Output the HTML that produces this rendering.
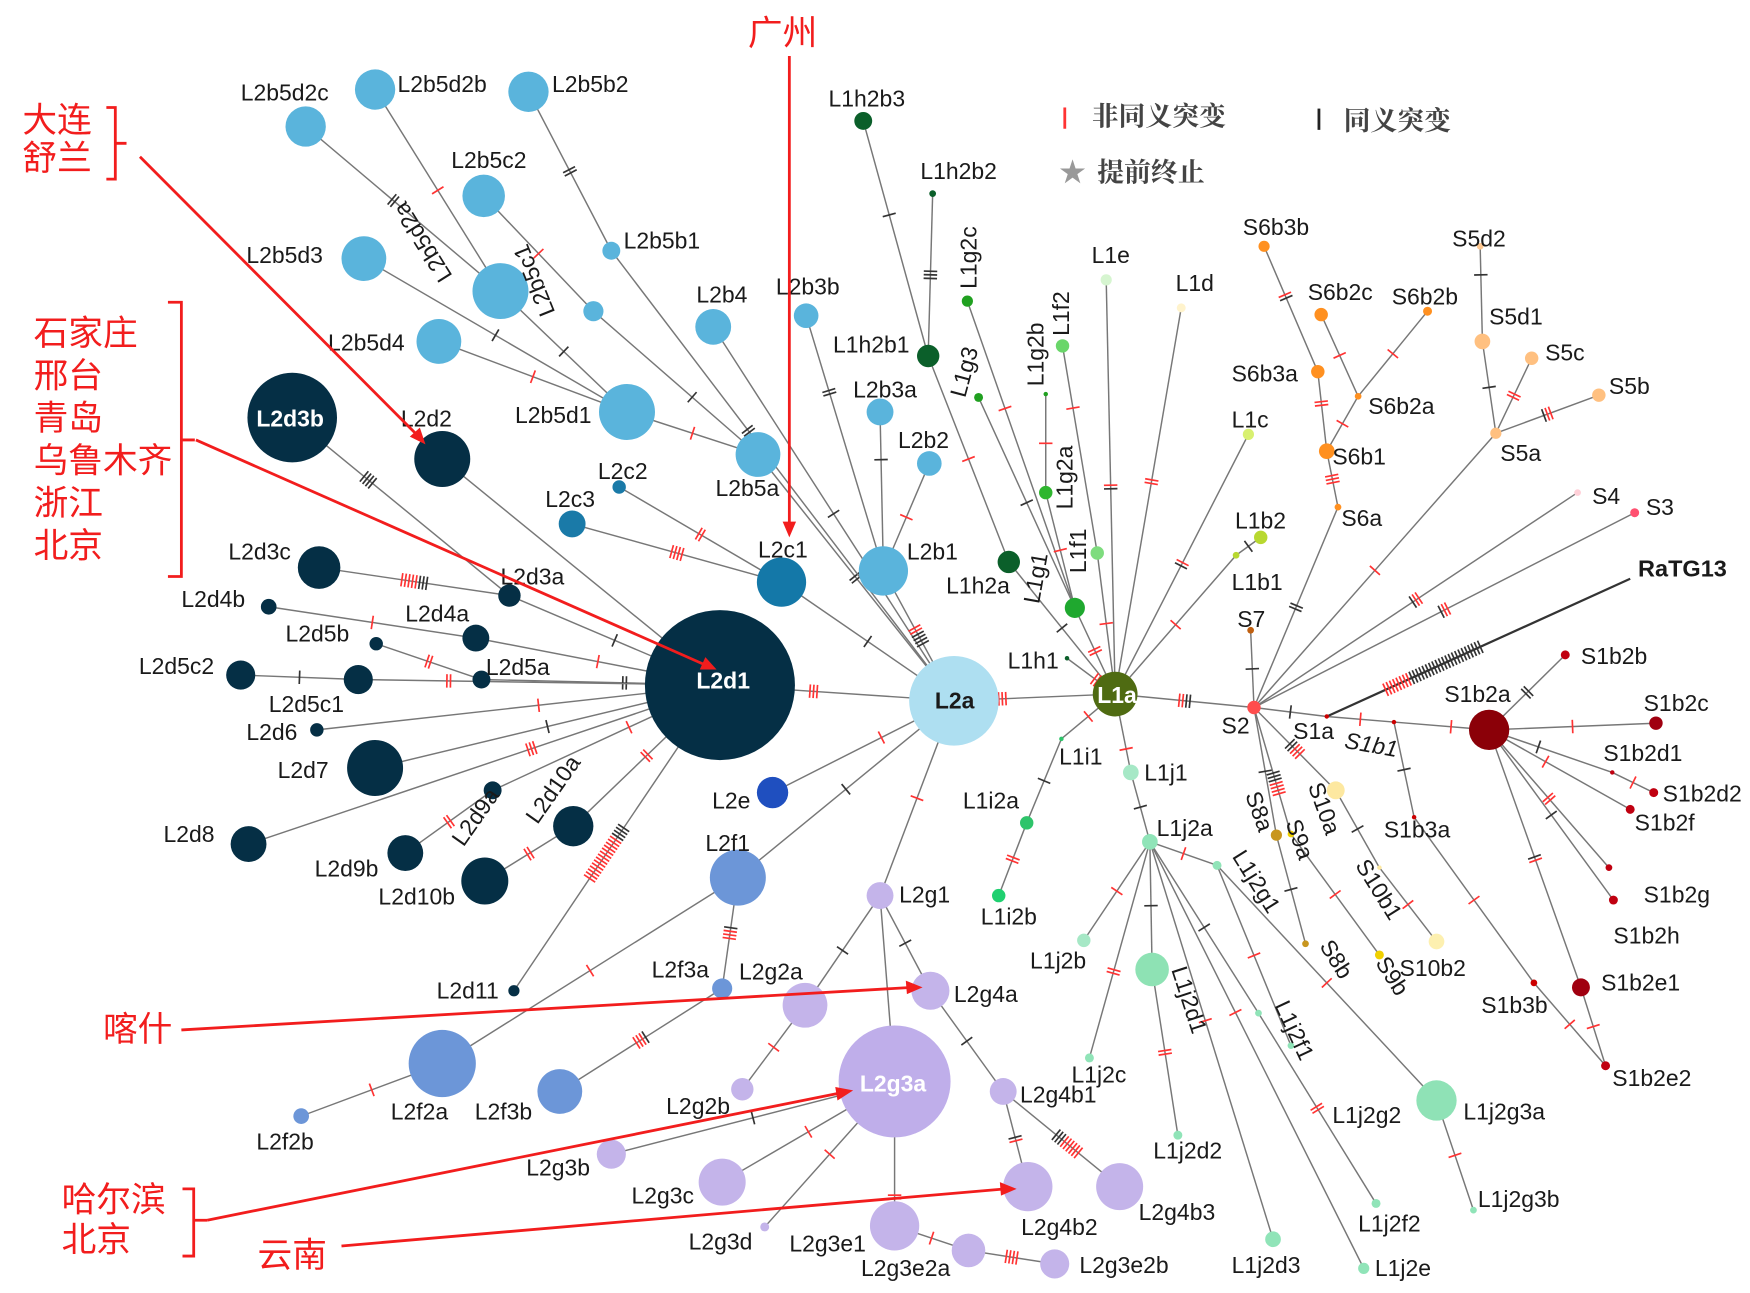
<!DOCTYPE html>
<html><head><meta charset="utf-8"><style>
html,body{margin:0;padding:0;background:#fff;}
svg{display:block;}
text{font-family:"Liberation Sans","Noto Sans CJK SC",sans-serif;font-size:20.5px;fill:#1a1a1a;}
.w{fill:#fff;font-weight:bold;}
.cn{fill:#f21d1d;font-size:31px;font-family:"Liberation Sans","Noto Sans CJK SC",sans-serif;}
.lg{font-family:"Liberation Serif","Noto Serif CJK SC",serif;font-size:24px;fill:#444;font-weight:bold;}
</style></head><body>
<svg id="s" width="1750" height="1293" viewBox="0 0 1563 1155" preserveAspectRatio="none" xmlns="http://www.w3.org/2000/svg">
<g id="edges"></g><g id="nodes"></g>
<g id="labels">
<text x="215" y="90">L2b5d2c</text><text x="355" y="82">L2b5d2b</text><text x="493" y="82">L2b5b2</text>
<text x="403" y="150">L2b5c2</text><text x="557" y="222">L2b5b1</text><text x="220" y="235">L2b5d3</text>
<text x="293" y="313">L2b5d4</text><text x="622" y="270">L2b4</text><text x="693" y="263">L2b3b</text>
<text x="460" y="378">L2b5d1</text><text x="762" y="355">L2b3a</text><text x="802" y="400">L2b2</text>
<text x="534" y="428">L2c2</text><text x="487" y="453">L2c3</text><text x="639" y="443">L2b5a</text>
<text x="677" y="498">L2c1</text><text x="810" y="500">L2b1</text>
<text class="w" x="229" y="381">L2d3b</text><text x="358" y="381">L2d2</text><text x="204" y="500">L2d3c</text>
<text x="447" y="522">L2d3a</text><text x="162" y="542">L2d4b</text><text x="362" y="555">L2d4a</text>
<text x="255" y="573">L2d5b</text><text x="434" y="603">L2d5a</text><text x="124" y="602">L2d5c2</text>
<text x="240" y="636">L2d5c1</text><text x="220" y="661">L2d6</text><text x="248" y="695">L2d7</text>
<text x="146" y="752">L2d8</text><text x="281" y="783">L2d9b</text><text x="338" y="808">L2d10b</text>
<text x="390" y="892">L2d11</text><text class="w" x="622" y="615">L2d1</text>
<text x="835" y="633" style="font-weight:bold">L2a</text>
<text x="636" y="722">L2e</text><text x="630" y="760">L2f1</text><text x="582" y="873">L2f3a</text>
<text x="660" y="875">L2g2a</text><text x="803" y="806">L2g1</text><text x="852" y="895">L2g4a</text>
<text x="349" y="1000">L2f2a</text><text x="424" y="1000">L2f3b</text><text x="229" y="1027">L2f2b</text>
<text x="595" y="995">L2g2b</text><text class="w" x="768" y="975">L2g3a</text><text x="911" y="985">L2g4b1</text>
<text x="470" y="1050">L2g3b</text><text x="564" y="1075">L2g3c</text><text x="912" y="1103">L2g4b2</text>
<text x="1017" y="1090">L2g4b3</text><text x="615" y="1116">L2g3d</text><text x="705" y="1118">L2g3e1</text>
<text x="769" y="1140">L2g3e2a</text><text x="964" y="1137">L2g3e2b</text>
<text x="740" y="95">L1h2b3</text><text x="822" y="160">L1h2b2</text><text x="744" y="315">L1h2b1</text>
<text x="975" y="235">L1e</text><text x="1050" y="260">L1d</text><text x="1100" y="382">L1c</text>
<text x="1103" y="472">L1b2</text><text x="1100" y="527">L1b1</text><text x="1105" y="560">S7</text>
<text x="845" y="530">L1h2a</text><text x="900" y="597">L1h1</text><text class="w" x="980" y="628">L1a</text>
<text x="946" y="683">L1i1</text><text x="860" y="722">L1i2a</text><text x="876" y="826">L1i2b</text>
<text x="1022" y="697">L1j1</text><text x="1033" y="747">L1j2a</text><text x="920" y="865">L1j2b</text>
<text x="957" y="967">L1j2c</text><text x="1030" y="1035">L1j2d2</text><text x="1190" y="1003">L1j2g2</text>
<text x="1307" y="1000">L1j2g3a</text><text x="1320" y="1078">L1j2g3b</text><text x="1213" y="1100">L1j2f2</text>
<text x="1100" y="1137">L1j2d3</text><text x="1228" y="1140">L1j2e</text>
<text x="1110" y="210">S6b3b</text><text x="1297" y="220">S5d2</text><text x="1168" y="268">S6b2c</text>
<text x="1243" y="272">S6b2b</text><text x="1330" y="290">S5d1</text><text x="1380" y="322">S5c</text>
<text x="1100" y="341">S6b3a</text><text x="1222" y="370">S6b2a</text><text x="1437" y="352">S5b</text>
<text x="1190" y="415">S6b1</text><text x="1340" y="412">S5a</text><text x="1198" y="470">S6a</text>
<text x="1422" y="450">S4</text><text x="1470" y="460">S3</text>
<text x="1463" y="515" style="font-weight:bold;font-size:21px">RaTG13</text>
<text x="1091" y="655">S2</text><text x="1155" y="660">S1a</text>
<text x="1200" y="668" style="font-style:italic" transform="rotate(10 1200 668)">S1b1</text>
<text x="1412" y="593">S1b2b</text><text x="1290" y="627">S1b2a</text><text x="1468" y="635">S1b2c</text>
<text x="1432" y="680">S1b2d1</text><text x="1485" y="716">S1b2d2</text><text x="1460" y="742">S1b2f</text>
<text x="1236" y="748">S1b3a</text><text x="1468" y="806">S1b2g</text><text x="1441" y="843">S1b2h</text>
<text x="1250" y="872">S10b2</text><text x="1323" y="905">S1b3b</text><text x="1430" y="885">S1b2e1</text>
<text x="1440" y="970">S1b2e2</text>
<text x="382" y="186" transform="rotate(238 410 210)">L2b5d2a</text>
<text x="490" y="205" transform="rotate(248 518 240)">L2b5c1</text>
<text x="1112" y="710" transform="rotate(70 1112 710)">S8a</text>
<text x="1148" y="735" transform="rotate(70 1148 735)">S9a</text>
<text x="1168" y="702" transform="rotate(70 1168 702)">S10a</text>
<text x="1210" y="773" transform="rotate(58 1210 773)">S10b1</text>
<text x="1178" y="845" transform="rotate(58 1178 845)">S8b</text>
<text x="1228" y="860" transform="rotate(58 1228 860)">S9b</text>
<text x="1100" y="765" transform="rotate(58 1100 765)">L1j2g1</text>
<text x="1046" y="866" transform="rotate(72 1046 866)">L1j2d1</text>
<text x="1138" y="898" transform="rotate(65 1138 898)">L1j2f1</text>
<text x="414" y="757" transform="rotate(-55 414 757)">L2d9a</text>
<text x="480" y="737" transform="rotate(-55 480 737)">L2d10a</text>
<text x="872" y="258" transform="rotate(-90 872 258)">L1g2c</text>
<text x="862" y="356" transform="rotate(-75 862 356)">L1g3</text>
<text x="932" y="345" transform="rotate(-90 932 345)">L1g2b</text>
<text x="955" y="300" transform="rotate(-90 955 300)">L1f2</text>
<text x="958" y="455" transform="rotate(-90 958 455)">L1g2a</text>
<text x="970" y="512" transform="rotate(-90 970 512)">L1f1</text>
<text x="928" y="540" transform="rotate(-80 928 540)">L1g1</text>
</g>
<g id="legend">
<line x1="951" y1="96" x2="951" y2="115" stroke="#f33" stroke-width="2.5"/>
<text class="lg" x="975" y="112">非同义突变</text>
<line x1="1178" y1="97" x2="1178" y2="116" stroke="#222" stroke-width="2.5"/>
<text class="lg" x="1200" y="116">同义突变</text>
<text x="946" y="162" style="fill:#999;font-size:24px">★</text>
<text class="lg" x="980" y="162">提前终止</text>
</g>
<g id="annot" stroke="#f21d1d" stroke-width="2.5" fill="none">
<text class="cn" x="668" y="40" stroke="none">广州</text>
<line x1="705" y1="50" x2="705" y2="470"/>
<text class="cn" x="20" y="118" stroke="none">大连</text><text class="cn" x="20" y="152" stroke="none">舒兰</text>
<path d="M95 96 h8 v64 h-8 M103 128 h10"/>
<line x1="125" y1="140" x2="372" y2="388"/>
<text class="cn" x="30" y="308" stroke="none">石家庄</text><text class="cn" x="30" y="346" stroke="none">邢台</text>
<text class="cn" x="30" y="384" stroke="none">青岛</text><text class="cn" x="30" y="422" stroke="none">乌鲁木齐</text>
<text class="cn" x="30" y="460" stroke="none">浙江</text><text class="cn" x="30" y="498" stroke="none">北京</text>
<path d="M150 270 h12 v245 h-12 M162 393 h12"/>
<line x1="175" y1="393" x2="630" y2="594"/>
<text class="cn" x="92" y="930" stroke="none">喀什</text>
<line x1="162" y1="920" x2="815" y2="882"/>
<text class="cn" x="55" y="1082" stroke="none">哈尔滨</text><text class="cn" x="55" y="1118" stroke="none">北京</text>
<path d="M163 1062 h10 v60 h-10 M173 1090 h12"/>
<line x1="185" y1="1090" x2="752" y2="976"/>
<text class="cn" x="230" y="1132" stroke="none">云南</text>
<line x1="305" y1="1113" x2="898" y2="1062"/>
<g fill="#f21d1d" stroke="none">
<polygon points="705,480 699,466 711,466"/>
<polygon points="380,397 366,390 375,382"/>
<polygon points="640,598 625,598 630,587"/>
<polygon points="824,882 810,888 809,876"/>
<polygon points="762,974 748,983 746,971"/>
<polygon points="908,1062 894,1068 893,1056"/>
</g>
</g>
</svg>
<script>
var N={
L2d1:[643,612,67,'#052f45'],L2a:[852,626,40,'#aedff1'],L1a:[996,620,20,'#4f6b12'],S2:[1120,632,6,'#ff4d4d'],
S1a:[1185,640,2,'#c00'],S1b1:[1245,645,2,'#c00'],S1b2a:[1330,652,18,'#8b0008'],
L2d3b:[261,373,40,'#052f45'],L2d2:[395,410,25,'#052f45'],L2d3c:[285,507,19,'#052f45'],L2d3a:[455,532,10,'#052f45'],
L2d4b:[240,542,7,'#052f45'],L2d4a:[425,570,12,'#052f45'],L2d5b:[336,575,6,'#052f45'],L2d5a:[430,607,8,'#052f45'],
L2d5c1:[320,607,13,'#052f45'],L2d5c2:[215,603,13,'#052f45'],L2d6:[283,652,6,'#052f45'],L2d7:[335,686,25,'#052f45'],
L2d9a:[440,706,8,'#052f45'],L2d10a:[512,738,18,'#052f45'],L2d8:[222,754,16,'#052f45'],L2d9b:[362,762,16,'#052f45'],
L2d10b:[433,787,21,'#052f45'],L2d11:[459,885,5,'#052f45'],
L2b5d2c:[273,113,18,'#5ab4dc'],L2b5d2b:[335,80,18,'#5ab4dc'],L2b5b2:[472,82,18,'#5ab4dc'],L2b5c2:[432,175,19,'#5ab4dc'],
L2b5b1:[546,224,8,'#5ab4dc'],L2b5d3:[325,231,20,'#5ab4dc'],L2b5d2a:[447,260,25,'#5ab4dc'],L2b5c1:[530,278,9,'#5ab4dc'],
L2b5d4:[392,305,20,'#5ab4dc'],L2b4:[637,292,16,'#5ab4dc'],L2b3b:[720,282,11,'#5ab4dc'],L2b5d1:[560,368,25,'#5ab4dc'],
L2b5a:[677,406,20,'#5ab4dc'],L2b3a:[786,368,12,'#5ab4dc'],L2b2:[830,414,11,'#5ab4dc'],L2b1:[789,510,22,'#5ab4dc'],
L2c2:[553,435,6,'#1a7aa8'],L2c3:[511,468,12,'#1a7aa8'],L2c1:[698,520,22,'#1478a8'],
L2e:[690,708,14,'#1f4fbf'],L2f1:[659,784,25,'#6c96d8'],L2f3a:[645,883,9,'#6c96d8'],L2f2a:[395,950,30,'#6c96d8'],
L2f3b:[500,975,20,'#6c96d8'],L2f2b:[269,997,7,'#6c96d8'],
L2g1:[786,800,12,'#c4b4ea'],L2g4a:[831,885,17,'#c4b4ea'],L2g2a:[719,898,20,'#c4b4ea'],L2g3a:[799,966,50,'#bfaeea'],
L2g2b:[663,973,10,'#c4b4ea'],L2g4b1:[896,975,12,'#c4b4ea'],L2g3b:[546,1031,13,'#c4b4ea'],L2g3c:[645,1056,21,'#c4b4ea'],
L2g4b2:[918,1060,22,'#c4b4ea'],L2g4b3:[1000,1060,21,'#c4b4ea'],L2g3d:[683,1096,4,'#c4b4ea'],L2g3e1:[799,1095,22,'#c4b4ea'],
L2g3e2a:[865,1117,15,'#c4b4ea'],L2g3e2b:[942,1129,13,'#c4b4ea'],
L1h2b3:[771,108,8,'#0b5f2a'],L1h2b2:[833,173,3,'#0b5f2a'],L1h2b1:[829,318,10,'#0b5f2a'],L1g2c:[864,269,5,'#20a020'],
L1g3:[874,355,4,'#20a020'],L1g2b:[934,352,2,'#20a020'],L1f2:[949,309,6,'#6ad66a'],L1e:[988,250,5,'#d6f5d0'],
L1d:[1055,275,4,'#fff3cc'],L1g2a:[934,440,6,'#2fb62f'],L1f1:[980,494,6,'#7edc7e'],L1h2a:[901,502,10,'#0b5f2a'],
L1g1:[960,543,9,'#1fa82f'],L1c:[1115,388,5,'#d8f070'],L1b2:[1126,480,6,'#b8d830'],L1b1:[1104,496,3,'#b8d830'],
L1h1:[953,588,2,'#0b5f2a'],L1i1:[948,660,2,'#2ec46a'],L1i2a:[917,735,6,'#2ec46a'],L1i2b:[892,800,6,'#1fd070'],
L1j1:[1010,690,7,'#a6e8c6'],L1j2a:[1027,752,7,'#90e4b8'],L1j2g1:[1087,773,4,'#90e4b8'],L1j2b:[968,840,6,'#a6e8c6'],
L1j2d1:[1029,866,15,'#8ee2b4'],L1j2c:[973,945,4,'#90e4b8'],L1j2g2:[1153,934,3,'#90e4b8'],L1j2f1:[1124,905,3,'#90e4b8'],
L1j2g3a:[1283,983,18,'#8fe2b6'],L1j2d2:[1052,1014,4,'#90e4b8'],L1j2g3b:[1316,1081,3,'#90e4b8'],L1j2f2:[1229,1075,4,'#90e4b8'],
L1j2d3:[1137,1107,7,'#90e4b8'],L1j2e:[1218,1133,5,'#90e4b8'],
S6b3b:[1129,220,5,'#ff9020'],S6b2c:[1180,281,6,'#ff9020'],S6b2b:[1275,278,4,'#ff9020'],S6b3a:[1177,332,6,'#ff9020'],
S6b2a:[1213,354,3,'#ff9020'],S6b1:[1185,403,7,'#ff9020'],S6a:[1195,453,3,'#ff9020'],S5d2:[1322,220,3,'#ffc890'],
S5d1:[1324,305,7,'#ffc080'],S5c:[1368,320,6,'#ffc080'],S5b:[1428,353,6,'#ffc080'],S5a:[1336,387,5,'#ffc080'],
S4:[1409,440,3,'#ffd0d8'],S3:[1460,458,4,'#ff5070'],S7:[1117,563,3,'#c06010'],RaTG13:[1456,517,0,'#000'],
S8a:[1140,746,5,'#c8961e'],S8b:[1166,843,3,'#c8961e'],S9a:[1153,745,3,'#f0d000'],S9b:[1232,853,4,'#f0d000'],
S10a:[1193,706,8,'#fde8a0'],S10b1:[1232,775,2,'#fde8a0'],S10b2:[1283,841,7,'#fdf0b0'],
S1b3a:[1263,730,2,'#c00'],S1b3b:[1370,878,3,'#c00'],
S1b2b:[1398,585,4,'#c00010'],S1b2c:[1479,646,6,'#a00010'],S1b2d1:[1440,690,2,'#c00010'],S1b2d2:[1477,708,4,'#c00010'],
S1b2f:[1456,723,4,'#c00010'],S1b2g:[1437,775,3,'#c00010'],S1b2h:[1441,804,4,'#c00010'],S1b2e1:[1412,882,8,'#a00010'],
S1b2e2:[1434,952,4,'#c00010']};
var E=[
['L2d1','L2a',3,0,.4],['L2a','L1a',3,0,.3],['L1a','S2',2,2,.5],['S2','S1a',0,1,.5],['S1a','S1b1',1,0,.5],['S1b1','S1b2a',1,0,.6],
['L2d2','L2d1',0,0],['L2d3b','L2d3a',0,4,.35],['L2d3c','L2d3a',5,3,.5],['L2d3a','L2d1',0,1,.5],['L2d4b','L2d4a',1,0,.5],['L2d4a','L2d1',1,0,.5],
['L2d5b','L2d5a',2,0,.5],['L2d5a','L2d1',0,2,.6],['L2d5c2','L2d5c1',0,1,.5],['L2d5c1','L2d1',2,0,.25],['L2d6','L2d1',1,0,.55],
['L2d7','L2d1',0,1,.5],['L2d8','L2d1',3,0,.6],['L2d9b','L2d9a',2,0,.5],['L2d9a','L2d1',1,0,.6],['L2d10b','L2d10a',2,0,.5],
['L2d10a','L2d1',2,0,.5],['L2d11','L2d1',14,4,.45],
['L2c1','L2a',0,1,.5],['L2c2','L2c1',2,0,.5],['L2c3','L2c1',4,0,.5],['L2b5a','L2a',0,2,.5],['L2b5d1','L2b5a',1,0,.5],
['L2b5d4','L2b5d1',1,0,.5],['L2b5d3','L2b5d1',0,1,.5],['L2b5d2a','L2b5d1',0,1,.5],['L2b5d2c','L2b5d2a',0,2,.45],['L2b5d2b','L2b5d2a',1,0,.5],
['L2b5c2','L2b5c1',1,0,.5],['L2b5c1','L2b5a',0,1,.6],['L2b5b2','L2b5b1',0,2,.5],['L2b5b1','L2a',0,2,.4],['L2b4','L2a',0,1,.5],
['L2b3b','L2b1',0,2,.3],['L2b3a','L2b1',0,1,.3],['L2b2','L2b1',1,0,.5],['L2b1','L2a',2,4,.5],['L2e','L2a',1,0,.6],
['L2f1','L2a',0,1,.5],['L2f3a','L2f1',3,1,.5],['L2f3b','L2f3a',3,1,.5],['L2f2a','L2f1',1,0,.5],['L2f2b','L2f2a',1,0,.5],
['L2g1','L2a',1,0,.5],['L2g2a','L2g1',0,1,.5],['L2g2b','L2g2a',1,0,.5],['L2g4a','L2g1',0,1,.5],['L2g3a','L2g1',0,0],
['L2g4b1','L2g4a',0,1,.5],['L2g4b2','L2g4b1',1,1,.5],['L2g4b3','L2g4b1',6,3,.45],['L2g3b','L2g3a',0,1,.5],['L2g3c','L2g3a',1,0,.5],
['L2g3d','L2g3a',1,0,.5],['L2g3e1','L2g3a',2,0,.2],['L2g3e2a','L2g3e1',1,0,.5],['L2g3e2b','L2g3e2a',4,0,.5],
['L1h2b3','L1h2b1',0,1,.4],['L1h2b2','L1h2b1',0,3,.5],['L1h2b1','L1h2a',1,0,.5],['L1h2a','L1a',0,1,.5],['L1g2c','L1g1',1,0,.35],
['L1g3','L1g1',0,1,.5],['L1g2b','L1g2a',1,0,.5],['L1g2a','L1g1',1,0,.5],['L1g1','L1a',2,0,.5],['L1f2','L1f1',1,0,.3],['L1f1','L1a',1,0,.5],
['L1e','L1a',1,1,.5],['L1d','L1a',2,0,.45],['L1c','L1a',1,1,.5],['L1b2','L1b1',0,1,.5],['L1b1','L1a',1,0,.5],['L1h1','L1a',2,0,.6],
['L1i1','L1a',1,0,.5],['L1i2a','L1i1',0,1,.5],['L1i2b','L1i2a',2,0,.5],['L1j1','L1a',1,0,.3],['L1j2a','L1j1',0,1,.5],
['L1j2b','L1j2a',1,0,.5],['L1j2c','L1j2a',2,0,.4],['L1j2d1','L1j2a',0,1,.5],['L1j2d2','L1j2d1',2,0,.5],['L1j2d3','L1j2a',1,0,.55],
['L1j2e','L1j2a',1,0,.6],['L1j2f1','L1j2a',0,1,.5],['L1j2f2','L1j2f1',2,0,.5],['L1j2g1','L1j2a',1,0,.5],['L1j2g2','L1j2g1',1,0,.5],
['L1j2g3a','L1j2g1',1,0,.5],['L1j2g3b','L1j2g3a',1,0,.5],
['S7','S2',0,1,.5],['S6a','S2',0,2,.5],['S6b1','S6a',3,0,.5],['S6b3a','S6b1',2,0,.4],['S6b3b','S6b3a',1,1,.4],['S6b2a','S6b1',1,0,.5],
['S6b2c','S6b2a',1,0,.5],['S6b2b','S6b2a',1,0,.5],['S5a','S2',1,0,.5],['S5d1','S5a',0,1,.5],['S5d2','S5d1',0,1,.3],['S5c','S5a',2,0,.5],
['S5b','S5a',2,1,.5],['S4','S2',2,1,.5],['S3','S2',2,1,.5],['S8a','S2',0,1,.5],['S8b','S8a',0,1,.5],['S9a','S2',4,3,.4],['S9b','S9a',1,0,.5],
['S10a','S2',3,2,.5],['S10b1','S10a',0,1,.5],['S10b2','S10b1',1,0,.5],['S1b3a','S1b1',0,1,.5],['S1b3b','S1b3a',1,0,.5],['S1b2e2','S1b3b',1,0,.5],
['S1b2b','S1b2a',0,2,.5],['S1b2c','S1b2a',1,0,.5],['S1b2d1','S1b2a',0,1,.6],['S1b2d2','S1b2d1',1,0,.5],['S1b2f','S1b2a',1,0,.6],
['S1b2g','S1b2a',2,0,.5],['S1b2h','S1b2a',0,1,.5],['S1b2e1','S1b2a',1,1,.5],['S1b2e2','S1b2e1',1,0,.5]];
var ns='http://www.w3.org/2000/svg',ge=document.getElementById('edges'),gn=document.getElementById('nodes');
function mk(t,a,p){var e=document.createElementNS(ns,t);for(var k in a)e.setAttribute(k,a[k]);p.appendChild(e);return e;}
function edge(a,b,r,k,t,w,col){var x1=a[0],y1=a[1],x2=b[0],y2=b[1];
mk('line',{x1:x1,y1:y1,x2:x2,y2:y2,stroke:col||'#777','stroke-width':w||1.3},ge);
var dx=x2-x1,dy=y2-y1,L=Math.sqrt(dx*dx+dy*dy),ux=dx/L,uy=dy/L,px=-uy,py=ux,n=r+k;if(!n)return;
var cx=x1+dx*t,cy=y1+dy*t,gap=3.2;
for(var i=0;i<n;i++){var o=(i-(n-1)/2)*gap,mx=cx+ux*o,my=cy+uy*o;
mk('line',{x1:mx-px*6,y1:my-py*6,x2:mx+px*6,y2:my+py*6,stroke:i<r?'#f33':'#333','stroke-width':1.5},ge);}}
E.forEach(function(e){edge(N[e[0]],N[e[1]],e[2],e[3],e[4]||.5);});
edge(N.S1a,N.RaTG13,8,22,.35,2,'#333');
for(var id in N){var n=N[id];if(n[2]>0)mk('circle',{cx:n[0],cy:n[1],r:n[2],fill:n[3]},gn);}
</script>
</body></html>
